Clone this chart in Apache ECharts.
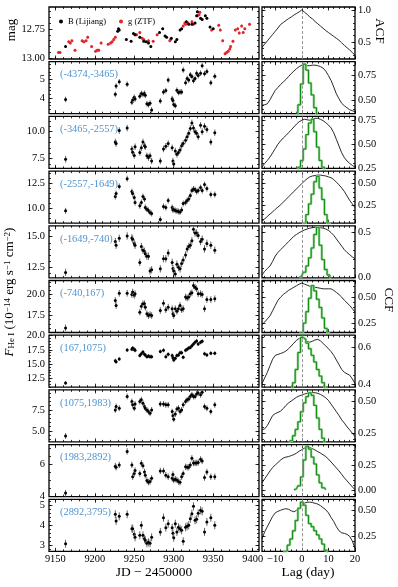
<!DOCTYPE html>
<html>
<head>
<meta charset="utf-8">
<script src="https://cdn.jsdelivr.net/npm/echarts@6/dist/echarts.min.js"></script>
<style>
html, body { margin: 0; padding: 0; background: #fff; }
#main { width: 398px; height: 587px; }
</style>
</head>
<body>
<div id="main"></div>
<script>
// ---- light curves (top panel) ----
var bJd = [9163, 9229, 9230, 9231, 9240, 9246, 9249, 9251, 9257, 9262,
    9265, 9268, 9271, 9282, 9286, 9289, 9291, 9297, 9302, 9304,
    9308, 9310, 9316, 9319, 9323, 9327, 9329, 9330, 9334, 9336,
    9340, 9342, 9346, 9350];
var bMag = [12.90, 12.77, 12.75, 12.76, 12.84, 12.855, 12.79, 12.80, 12.82, 12.855,
    12.86, 12.87, 12.90, 12.78, 12.75, 12.81, 12.82, 12.83, 12.86, 12.84,
    12.76, 12.75, 12.69, 12.71, 12.71, 12.70, 12.64, 12.605, 12.66, 12.67,
    12.64, 12.66, 12.735, 12.75];
var gJd = [9154, 9156, 9167, 9169, 9171, 9175, 9184, 9186, 9189, 9191,
    9196, 9201, 9203, 9205, 9208, 9217, 9220, 9222, 9224, 9226,
    9251, 9253, 9257, 9260, 9262, 9268, 9274, 9279, 9295, 9296,
    9312, 9314, 9315, 9318, 9323, 9325, 9330, 9332, 9333, 9348,
    9357, 9359, 9362, 9365, 9367, 9369, 9371, 9372, 9375, 9378,
    9381, 9383, 9386, 9388, 9390, 9396];
var gMag = [12.95, 12.95, 12.86, 12.87, 12.85, 12.93, 12.85, 12.86, 12.85, 12.82,
    12.90, 12.94, 12.93, 12.93, 12.87, 12.88, 12.87, 12.86, 12.84, 12.82,
    12.80, 12.80, 12.78, 12.83, 12.84, 12.85, 12.855, 12.80, 12.85, 12.84,
    12.725, 12.70, 12.71, 12.70, 12.69, 12.71, 12.64, 12.63, 12.61, 12.76,
    12.72, 12.76, 12.85, 12.96, 12.95, 12.94, 12.92, 12.90, 12.855, 12.76,
    12.75, 12.785, 12.725, 12.78, 12.75, 12.71];
var bErr = 0.01, gErr = 0.012;

// ---- He I flux in velocity windows ----
var epochs = [9163, 9226, 9227, 9231, 9241, 9247, 9248, 9250, 9251, 9257,
    9259, 9261, 9263, 9264, 9266, 9268, 9270, 9272, 9283, 9287,
    9290, 9293, 9298, 9299, 9300, 9302, 9304, 9306, 9308, 9310,
    9312, 9315, 9317, 9319, 9321, 9323, 9325, 9327, 9329, 9331,
    9334, 9336, 9339, 9342, 9347, 9352];
var windows = ['(-4374,-3465)', '(-3465,-2557)', '(-2557,-1649)', '(-1649,-740)', '(-740,167)',
    '(167,1075)', '(1075,1983)', '(1983,2892)', '(2892,3795)'];
var flux1 = [3.93, 4.20, 4.64, 4.87, 4.74, 3.78, 3.90, 4.04, 3.95, 4.10,
    4.25, 4.20, 4.25, 4.15, 3.70, 3.65, 3.73, 3.37, 3.85, 4.33,
    4.40, 4.96, 3.97, 3.87, 3.66, 3.60, 4.42, 4.30, 4.33, 4.33,
    5.50, 4.82, 5.05, 4.96, 5.24, 5.15, 4.93, 5.05, 5.33, 5.20,
    5.33, 5.73, 5.30, 5.42, 4.82, 5.17];
var flux2 = [7.44, 9.04, 8.90, 10.10, 10.33, 8.40, 8.10, 7.80, 8.60, 8.08,
    8.50, 9.04, 8.70, 8.60, 7.76, 7.60, 7.76, 7.28, 7.28, 8.40,
    8.65, 8.90, 8.50, 7.28, 7.00, 8.20, 7.90, 8.08, 8.30, 8.70,
    8.90, 9.20, 9.52, 9.84, 10.30, 10.80, 10.33, 10.00, 9.84, 9.52,
    10.60, 10.00, 10.50, 10.20, 9.04, 9.90];
var flux3 = [9.76, 11.20, 11.50, 12.22, 13.00, 11.70, 11.50, 11.10, 10.60, 10.27,
    10.60, 11.20, 10.96, 10.10, 9.93, 9.80, 9.60, 9.50, 8.90, 10.20,
    10.10, 10.80, 10.10, 9.86, 9.90, 9.80, 9.75, 9.70, 9.65, 9.86,
    10.50, 10.60, 10.80, 10.96, 11.30, 11.80, 11.96, 11.90, 11.70, 11.80,
    12.10, 11.80, 12.40, 12.00, 11.40, 11.40];
var flux4 = [12.08, 14.60, 14.30, 14.87, 15.06, 14.90, 14.80, 14.45, 14.30, 12.90,
    14.20, 13.90, 13.80, 13.60, 13.40, 13.40, 12.20, 12.30, 12.37, 13.20,
    13.20, 13.67, 12.90, 12.40, 12.20, 11.95, 12.75, 12.50, 12.37, 12.80,
    13.10, 13.50, 14.00, 14.20, 14.30, 14.67, 15.60, 15.30, 15.30, 15.10,
    14.60, 14.80, 14.00, 14.45, 14.30, 13.90];
var flux5 = [16.03, 19.30, 18.70, 20.15, 20.15, 20.00, 20.30, 19.90, 20.10, 17.90,
    18.60, 18.90, 18.90, 18.50, 17.70, 17.50, 17.60, 17.50, 18.10, 18.97,
    18.20, 18.50, 18.30, 17.70, 17.50, 18.30, 18.00, 18.30, 18.70, 18.20,
    18.30, 19.70, 19.60, 19.70, 20.10, 20.20, 21.07, 20.87, 20.70, 20.10,
    20.10, 20.00, 18.30, 19.40, 19.40, 19.50];
var flux6 = [11.70, 15.60, 15.40, 15.90, 17.45, 17.60, 17.80, 17.60, 17.40, 16.50,
    16.80, 17.10, 16.70, 16.60, 16.30, 16.40, 16.30, 16.30, 17.20, 17.40,
    16.30, 16.70, 16.50, 16.10, 15.70, 16.00, 16.50, 16.60, 17.00, 17.00,
    16.20, 17.40, 17.60, 17.80, 17.90, 18.20, 18.50, 18.80, 19.05, 18.50,
    18.80, 19.00, 16.80, 16.60, 16.90, 16.90];
var flux7 = [4.40, 7.50, 7.90, 7.70, 9.10, 8.50, 8.10, 7.70, 8.20, 8.50,
    8.70, 8.30, 7.90, 7.70, 7.50, 7.30, 7.10, 7.50, 8.20, 8.20,
    8.10, 8.10, 7.30, 6.80, 6.40, 7.00, 7.60, 7.70, 7.30, 7.50,
    8.10, 8.50, 8.70, 8.80, 9.10, 9.30, 9.10, 9.10, 9.40, 9.50,
    9.30, 9.60, 7.90, 7.70, 7.30, 8.10];
var flux8 = [4.17, 5.87, 5.80, 5.95, 6.80, 5.95, 5.20, 5.40, 5.60, 5.40,
    6.05, 5.90, 5.50, 5.30, 4.97, 4.86, 4.90, 5.10, 5.57, 5.57,
    5.30, 5.20, 5.10, 5.35, 5.00, 5.05, 5.00, 4.90, 4.86, 5.20,
    5.40, 5.83, 5.80, 5.80, 5.95, 6.37, 6.07, 6.07, 6.07, 6.10,
    6.30, 6.20, 5.15, 5.50, 5.20, 5.20];
var flux9 = [3.08, 4.55, 4.22, 4.45, 4.55, 3.83, 3.83, 3.55, 3.40, 3.50,
    4.00, 3.50, 3.33, 3.25, 3.10, 3.15, 3.10, 3.40, 3.67, 4.38,
    3.88, 4.08, 3.88, 3.60, 3.38, 4.08, 3.67, 3.90, 3.83, 3.75,
    3.20, 3.90, 3.95, 4.00, 4.33, 4.58, 4.95, 4.25, 4.30, 4.60,
    4.75, 4.70, 3.67, 4.17, 4.38, 4.00];
var fluxErr = [0.15, 0.3, 0.3, 0.3, 0.4, 0.35, 0.35, 0.2, 0.2];

// ---- ACF / CCF ----
var lags = [-15, -14, -13, -12, -11, -10, -9, -8, -7, -6, -5, -4, -3, -2, -1, 0,
    1, 2, 3, 4, 5, 6, 7, 8, 9, 10, 11, 12, 13, 14, 15, 16, 17, 18, 19, 20];
var acf = [0.42, 0.47, 0.52, 0.57, 0.62, 0.67, 0.72, 0.775, 0.805, 0.835,
    0.865, 0.89, 0.92, 0.945, 0.97, 1.0, 0.965, 0.93, 0.89, 0.86,
    0.82, 0.785, 0.75, 0.715, 0.68, 0.65, 0.62, 0.59, 0.56, 0.53,
    0.49, 0.45, 0.415, 0.38, 0.34, 0.30];
var ccf1 = [0.445, 0.45, 0.46, 0.50, 0.55, 0.595, 0.625, 0.655, 0.68, 0.705,
    0.735, 0.765, 0.79, 0.815, 0.835, 0.85, 0.855, 0.845, 0.845, 0.85,
    0.85, 0.845, 0.835, 0.82, 0.79, 0.745, 0.695, 0.63, 0.56, 0.51,
    0.465, 0.44, 0.42, 0.40, 0.39, 0.38];
var ccf2 = [0.26, 0.30, 0.33, 0.367, 0.41, 0.455, 0.50, 0.535, 0.565, 0.59,
    0.62, 0.65, 0.68, 0.71, 0.735, 0.75, 0.76, 0.755, 0.75, 0.76,
    0.77, 0.77, 0.76, 0.745, 0.725, 0.70, 0.67, 0.62, 0.55, 0.48,
    0.41, 0.36, 0.325, 0.30, 0.28, 0.26];
var ccf3 = [0.075, 0.10, 0.13, 0.155, 0.18, 0.21, 0.235, 0.26, 0.29, 0.32,
    0.35, 0.38, 0.41, 0.44, 0.47, 0.50, 0.53, 0.555, 0.575, 0.585,
    0.59, 0.595, 0.595, 0.59, 0.585, 0.575, 0.565, 0.545, 0.515, 0.485,
    0.45, 0.41, 0.36, 0.31, 0.27, 0.23];
var ccf4 = [0.03, 0.07, 0.10, 0.13, 0.18, 0.24, 0.28, 0.31, 0.34, 0.37,
    0.40, 0.43, 0.46, 0.48, 0.50, 0.515, 0.53, 0.54, 0.55, 0.555,
    0.56, 0.56, 0.555, 0.55, 0.54, 0.525, 0.50, 0.47, 0.43, 0.39,
    0.35, 0.31, 0.28, 0.255, 0.23, 0.21];
var ccf5 = [0.235, 0.26, 0.29, 0.32, 0.37, 0.42, 0.47, 0.50, 0.525, 0.545,
    0.565, 0.58, 0.595, 0.61, 0.625, 0.635, 0.625, 0.615, 0.605, 0.60,
    0.595, 0.59, 0.585, 0.58, 0.58, 0.58, 0.58, 0.565, 0.545, 0.525,
    0.50, 0.47, 0.445, 0.42, 0.39, 0.355];
var ccf6 = [0.405, 0.435, 0.465, 0.50, 0.535, 0.555, 0.56, 0.565, 0.57, 0.578,
    0.59, 0.605, 0.62, 0.635, 0.645, 0.652, 0.64, 0.627, 0.625, 0.63,
    0.637, 0.64, 0.632, 0.618, 0.605, 0.59, 0.575, 0.555, 0.53, 0.505,
    0.48, 0.465, 0.457, 0.45, 0.43, 0.405];
var ccf7 = [0.276, 0.285, 0.31, 0.35, 0.39, 0.405, 0.415, 0.425, 0.445, 0.47,
    0.49, 0.505, 0.52, 0.535, 0.545, 0.553, 0.56, 0.567, 0.571, 0.572,
    0.57, 0.566, 0.557, 0.545, 0.53, 0.51, 0.48, 0.45, 0.42, 0.39,
    0.355, 0.33, 0.30, 0.276, 0.25, 0.223];
var ccf8 = [0.07, 0.11, 0.15, 0.19, 0.225, 0.25, 0.275, 0.30, 0.32, 0.33,
    0.335, 0.345, 0.355, 0.37, 0.39, 0.405, 0.42, 0.43, 0.425, 0.415,
    0.40, 0.385, 0.37, 0.353, 0.335, 0.31, 0.28, 0.25, 0.22, 0.19,
    0.155, 0.12, 0.09, 0.06, 0.03, 0.0];
var ccf9 = [0.22, 0.29, 0.34, 0.39, 0.44, 0.475, 0.49, 0.50, 0.51, 0.515,
    0.51, 0.495, 0.485, 0.50, 0.52, 0.55, 0.57, 0.578, 0.58, 0.575,
    0.568, 0.56, 0.545, 0.525, 0.505, 0.475, 0.43, 0.39, 0.34, 0.30,
    0.28, 0.275, 0.265, 0.245, 0.20, 0.13];

// centroid distributions, [lag, scaled height]
var cccd1 = [[-3, 0], [-2, 0.2], [-1, 0.45], [0, 0.66], [1, 0.86], [2, 0.80], [3, 0.67], [4, 0.55], [5, 0.42], [6, 0.3], [7, 0]];
var cccd2 = [[-2, 0], [-1, 0.26], [0, 0.33], [1, 0.45], [2, 0.6], [3, 0.72], [4, 0.76], [5, 0.63], [6, 0.47], [7, 0.33], [8, 0.26], [9, 0]];
var cccd3 = [[0, 0], [1, 0.05], [2, 0.15], [3, 0.27], [4, 0.38], [5, 0.52], [6, 0.58], [7, 0.45], [8, 0.32], [9, 0.15], [10, 0.05], [11, 0]];
var cccd4 = [[-1, 0], [0, 0.02], [1, 0.06], [2, 0.13], [3, 0.22], [4, 0.33], [5, 0.48], [6, 0.56], [7, 0.36], [8, 0.2], [9, 0.09], [10, 0.03], [11, 0]];
var cccd5 = [[-1, 0], [0, 0.16], [1, 0.25], [2, 0.36], [3, 0.49], [4, 0.61], [5, 0.56], [6, 0.48], [7, 0.4], [8, 0.3], [9, 0.2], [10, 0.15], [11, 0]];
var cccd6 = [[-5, 0], [-4, 0.3], [-3, 0.41], [-2, 0.48], [-1, 0.57], [0, 0.65], [1, 0.64], [2, 0.62], [3, 0.59], [4, 0.555], [5, 0.52], [6, 0.48], [7, 0.445], [8, 0.41], [9, 0.38], [10, 0]];
var cccd7 = [[-5, 0], [-4, 0.19], [-3, 0.23], [-2, 0.28], [-1, 0.34], [0, 0.42], [1, 0.49], [2, 0.54], [3, 0.57], [4, 0.55], [5, 0.47], [6, 0.37], [7, 0.28], [8, 0.21], [9, 0]];
var cccd8 = [[-3, 0], [-2, 0.01], [-1, 0.04], [0, 0.13], [1, 0.3], [2, 0.44], [3, 0.41], [4, 0.33], [5, 0.26], [6, 0.15], [7, 0.07], [8, 0.02], [9, 0]];
var cccd9 = [[-7, 0], [-6, 0.1], [-5, 0.16], [-4, 0.22], [-3, 0.3], [-2, 0.4], [-1, 0.52], [0, 0.58], [1, 0.55], [2, 0.45], [3, 0.37], [4, 0.34], [5, 0.3], [6, 0.26], [7, 0.22], [8, 0.17], [9, 0.11], [10, 0]];

// ---- tick labels ----
var jdTicks = [9150, 9200, 9250, 9300, 9350, 9400];
var lagTicks = [-10, 0, 10, 20];
var leftTicks = [[12.75, 13.00], [4, 5], [7.5, 10.0], [10.0, 12.5], [12.5, 15.0], [17.5, 20.0],
    [12.5, 15.0, 17.5, 20.0], [5.0, 7.5], [4, 6], [3, 4, 5]];
var rightTicks = [[0.5, 1.0], [0.50, 0.75], [0.25, 0.50, 0.75], [0.25, 0.50], [0.0, 0.5], [0.25, 0.50],
    [0.4, 0.6], [0.25, 0.50], [0.00, 0.25], [0.25, 0.50]];

// ---- panel layout / axis styling ----
var leftRange = [[12.565, 13.005], [3.17, 5.94], [6.6, 11.41], [8.53, 13.76], [11.64, 15.89],
    [15.48, 21.67], [10.95, 20.05], [3.69, 9.88], [3.95, 7.23], [2.7, 5.3]];
var leftDec = [2, 0, 1, 1, 1, 1, 1, 1, 0, 0];
var leftMinor = [0.05, 0.2, 0.5, 0.5, 0.5, 0.5, 0.5, 0.5, 0.5, 0.2];
var rightRange = [[0.24, 1.045], [0.36, 0.885], [0.248, 0.79], [0.054, 0.64], [-0.002, 0.576],
    [0.16, 0.66], [0.386, 0.662], [0.181, 0.593], [-0.069, 0.456], [0.10, 0.607]];
var rightDec = [1, 2, 2, 2, 1, 2, 1, 2, 2, 2];
var rightMinor = [0.1, 0.05, 0.05, 0.05, 0.1, 0.05, 0.05, 0.05, 0.05, 0.05];

var SERIF = '"Liberation Serif", serif';
var LX = 49, LW = 210, RX = 262, RW = 93, TOP0 = 7, PITCH = 54.7, PH = 52;
var JD_RANGE = [9142, 9408], LAG_RANGE = [-15, 20];

function stepTicks(range, step) {
    var lo = Math.min(range[0], range[1]), hi = Math.max(range[0], range[1]);
    var out = [];
    for (var k = Math.ceil(lo / step - 1e-9); k * step <= hi + 1e-9; k++) {
        out.push(Math.round(k * step * 1e6) / 1e6);
    }
    return out;
}

function ax(gi, pos, range, inverse, ticks, len, label) {
    return {
        type: 'value', gridIndex: gi, position: pos, min: range[0], max: range[1], inverse: !!inverse,
        axisLine: {show: false, onZero: false}, splitLine: {show: false},
        axisTick: {show: true, inside: true, length: len, customValues: ticks,
            lineStyle: {color: '#000', width: 0.8}},
        axisLabel: label || {show: false}
    };
}

function labelStyle(values, fmt, margin) {
    return {show: true, customValues: values, margin: margin, fontSize: 10.4, fontFamily: SERIF,
        color: '#000', formatter: fmt};
}

var grids = [], xAxes = [], yAxes = [], seriesList = [], texts = [];

function addPanel(gi, left, width, panelTop, o) {
    grids.push({left: left, top: panelTop, width: width, height: PH, show: true,
        borderColor: '#000', borderWidth: 1.3});
    var xMinor = stepTicks(o.xr, o.xMinor), yMinor = stepTicks(o.yr, o.yMinor);
    var xLab = o.xLabel ? labelStyle(o.xTicks, function (v) { return String(v).replace('-', '\u2212'); }, 3) : null;
    xAxes.push(ax(gi, 'bottom', o.xr, false, o.xTicks, 3.5, xLab));
    xAxes.push(ax(gi, 'top', o.xr, false, o.xTicks, 3.5, null));
    xAxes.push(ax(gi, 'bottom', o.xr, false, xMinor, 2, null));
    xAxes.push(ax(gi, 'top', o.xr, false, xMinor, 2, null));
    var yLab = labelStyle(o.yTicks, function (v) { return v.toFixed(o.dec); }, o.side === 'left' ? 4 : 3);
    yAxes.push(ax(gi, o.side, o.yr, o.inverse, o.yTicks, 3.5, yLab));
    yAxes.push(ax(gi, o.side === 'left' ? 'right' : 'left', o.yr, o.inverse, o.yTicks, 3.5, null));
    yAxes.push(ax(gi, 'left', o.yr, o.inverse, yMinor, 2, null));
    yAxes.push(ax(gi, 'right', o.yr, o.inverse, yMinor, 2, null));
}

function errSeries(name, gi, data, dot, bar) {
    return {
        name: name, type: 'custom', xAxisIndex: 4 * gi, yAxisIndex: 4 * gi, data: data,
        itemStyle: {color: dot},
        renderItem: function (params, api) {
            var x = api.value(0), y = api.value(1), e = api.value(2);
            var c = api.coord([x, y]), a = api.coord([x, y - e]), b = api.coord([x, y + e]);
            return {type: 'group', children: [
                {type: 'line', shape: {x1: c[0], y1: a[1], x2: c[0], y2: b[1]},
                    style: {stroke: bar, lineWidth: 1}},
                {type: 'circle', shape: {cx: c[0], cy: c[1], r: 1.5}, style: {fill: dot}}
            ]};
        }
    };
}

var fluxRows = [flux1, flux2, flux3, flux4, flux5, flux6, flux7, flux8, flux9];
var ccfRows = [acf, ccf1, ccf2, ccf3, ccf4, ccf5, ccf6, ccf7, ccf8, ccf9];
var cccdRows = [null, cccd1, cccd2, cccd3, cccd4, cccd5, cccd6, cccd7, cccd8, cccd9];

function buildRow(r) {
    var rowTop = TOP0 + r * PITCH;
    var isLast = r === 9;
    var gl = 2 * r, gr = 2 * r + 1;

    // light curve / flux panel
    addPanel(gl, LX, LW, rowTop, {xr: JD_RANGE, xTicks: jdTicks, xMinor: 10, xLabel: isLast,
        yr: leftRange[r], yTicks: leftTicks[r], yMinor: leftMinor[r], dec: leftDec[r],
        side: 'left', inverse: r === 0});
    if (r === 0) {
        seriesList.push(errSeries('g (ZTF)', gl, gJd.map(function (t, i) { return [t, gMag[i], gErr]; }),
            '#e3262b', '#ee8a8a'));
        seriesList.push(errSeries('B (Lijiang)', gl, bJd.map(function (t, i) { return [t, bMag[i], bErr]; }),
            '#000', '#666'));
    } else {
        var fl = fluxRows[r - 1], fe = fluxErr[r - 1];
        seriesList.push(errSeries('w' + r, gl, epochs.map(function (t, i) { return [t, fl[i], fe]; }),
            '#000', '#666'));
        texts.push({type: 'text', x: 60, y: rowTop + 13,
            style: {text: windows[r - 1], fontSize: 10.4, fontFamily: SERIF, fill: '#4f93cf',
                align: 'left', verticalAlign: 'middle'}});
    }

    // ACF / CCF panel
    addPanel(gr, RX, RW, rowTop, {xr: LAG_RANGE, xTicks: lagTicks, xMinor: 2, xLabel: isLast,
        yr: rightRange[r], yTicks: rightTicks[r], yMinor: rightMinor[r], dec: rightDec[r],
        side: 'right', inverse: false});
    var cc = ccfRows[r];
    seriesList.push({type: 'line', xAxisIndex: 4 * gr, yAxisIndex: 4 * gr,
        data: lags.map(function (l, i) { return [l, cc[i]]; }),
        symbol: 'none', lineStyle: {color: '#111', width: 0.9},
        markLine: {silent: true, symbol: 'none', label: {show: false},
            lineStyle: {color: '#8a8a8a', type: [3, 2], width: 0.9}, data: [{xAxis: 0}]}});
    if (cccdRows[r]) {
        seriesList.push({type: 'line', xAxisIndex: 4 * gr, yAxisIndex: 4 * gr,
            data: cccdRows[r], step: 'middle', symbol: 'none',
            lineStyle: {color: '#8fd08f', width: 2.4}});
        seriesList.push({type: 'line', xAxisIndex: 4 * gr, yAxisIndex: 4 * gr,
            data: cccdRows[r], step: 'middle', symbol: 'none',
            lineStyle: {color: '#128c12', width: 1}});
    }
}

for (var r = 0; r < 10; r++) buildRow(r);

function addTitle(text, x, y, rot, size) {
    texts.push({type: 'text', x: x, y: y, rotation: rot,
        style: {text: text, fontSize: size, fontFamily: SERIF, fill: '#000', align: 'center', verticalAlign: 'middle'}});
}
addTitle('mag', 12, 30, Math.PI / 2, 13);
addTitle('ACF', 379, 31, -Math.PI / 2, 13);
addTitle('CCF', 388, 300, -Math.PI / 2, 13);
addTitle('JD \u2212 2450000', 154, 572, 0, 13.5);
addTitle('Lag (day)', 308, 572, 0, 13.5);
texts.push({type: 'text', x: 10, y: 292, rotation: Math.PI / 2,
    style: {text: '{i|F}{s|He I} (10{p|\u221214} erg s{p|\u22121} cm{p|\u22122})',
        fontSize: 13, fontFamily: SERIF, fill: '#000', align: 'center', verticalAlign: 'middle',
        rich: {
            i: {fontStyle: 'italic', fontSize: 13, fontFamily: SERIF},
            s: {fontSize: 9, fontFamily: SERIF, verticalAlign: 'bottom'},
            p: {fontSize: 9, fontFamily: SERIF, verticalAlign: 'top'}
        }}});

var chart = echarts.init(document.getElementById('main'));
chart.setOption({
    animation: false,
    grid: grids,
    xAxis: xAxes,
    yAxis: yAxes,
    series: seriesList,
    graphic: texts,
    legend: {
        data: [{name: 'B (Lijiang)', icon: 'circle', itemStyle: {color: '#000'}},
            {name: 'g (ZTF)', icon: 'circle', itemStyle: {color: '#e3262b'}}],
        left: 54, top: 12, itemWidth: 4, itemHeight: 4, itemGap: 13, selectedMode: false,
        textStyle: {fontSize: 8.5, fontFamily: SERIF, color: '#000'}
    }
});
</script>
</body>
</html>
